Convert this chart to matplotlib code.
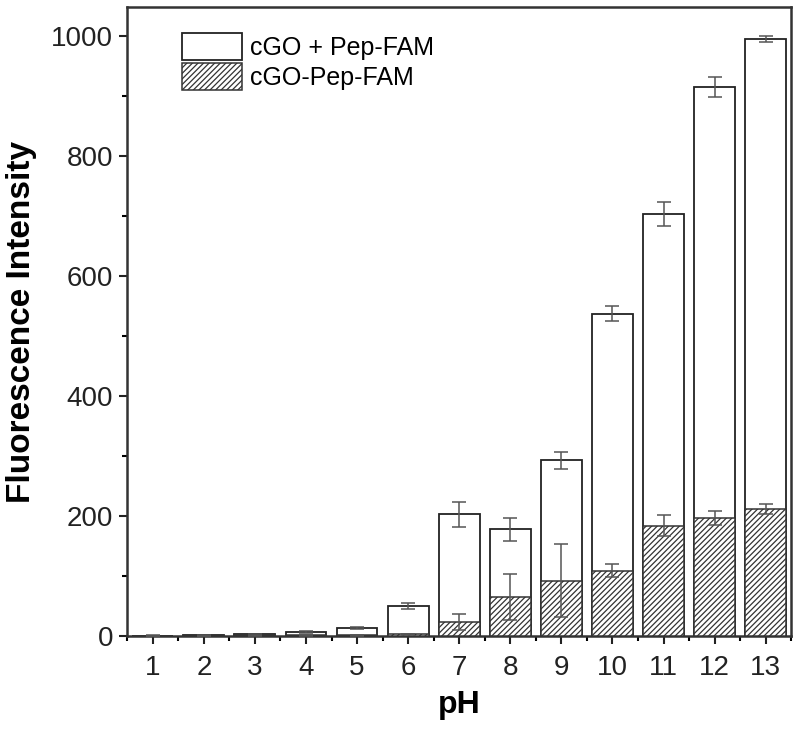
import numpy as np
import matplotlib
matplotlib.use("Agg")
import matplotlib.pyplot as plt
from matplotlib.ticker import MultipleLocator

# pH values and fluorescence intensities
ph = np.array([1, 2, 3, 4, 5, 6, 7, 8, 9, 10, 11, 12, 13])
mix = np.array([0.5, 1, 3, 7, 13, 50, 203, 178, 293, 537, 703, 915, 995])
mix_err = np.array([0.5, 0.5, 1, 1.5, 2, 5, 21, 19, 14, 12, 20, 17, 5])
conj = np.array([0.5, 0.5, 1, 1, 1, 3, 23, 65, 92, 109, 184, 197, 212])
conj_err = np.array([0.3, 0.3, 0.5, 0.5, 0.5, 1, 13, 38, 61, 11, 18, 12, 8])

labels = ['cGO + Pep-FAM', 'cGO-Pep-FAM']

plt.rcParams['font.family'] = ['Liberation Sans', 'DejaVu Sans']
plt.rcParams['hatch.linewidth'] = 0.9

fig = plt.figure(figsize=(8, 7.34), dpi=100, facecolor='white')
ax = fig.add_axes([0.159, 0.1335, 0.83, 0.857])

ax.bar(ph, mix, width=0.8, facecolor='white', edgecolor='#222222',
       linewidth=1.3, label=labels[0], zorder=2)
ax.errorbar(ph, mix, yerr=mix_err, fmt='none', ecolor='#555555',
            elinewidth=1.1, capsize=5, capthick=1.1, zorder=3)

ax.bar(ph, conj, width=0.8, facecolor='white', edgecolor='#333333',
       hatch='//////', linewidth=1.1, label=labels[1], zorder=4)
ax.errorbar(ph, conj, yerr=conj_err, fmt='none', ecolor='#555555',
            elinewidth=1.1, capsize=5, capthick=1.1, zorder=5)

ax.set_xlim(0.5, 13.5)
ax.set_ylim(0, 1048)
ax.set_xticks(ph)
ax.xaxis.set_minor_locator(MultipleLocator(0.5))
ax.yaxis.set_major_locator(MultipleLocator(200))
ax.yaxis.set_minor_locator(MultipleLocator(100))

ax.tick_params(axis='both', which='major', direction='out', length=6,
               width=1.5, labelsize=20, colors='#222222')
ax.tick_params(axis='y', which='major', pad=4)
ax.tick_params(axis='x', which='major', pad=8)
ax.tick_params(axis='both', which='minor', direction='out', length=3.5,
               width=1.5)
for s in ax.spines.values():
    s.set_linewidth(1.8)
    s.set_color('#333333')

ax.set_xlabel('pH', fontsize=23, fontweight='bold', labelpad=6)
ax.set_ylabel('Fluorescence Intensity', fontsize=24, fontweight='bold',
              labelpad=10)

ax.legend(loc='upper left', bbox_to_anchor=(0.049, 0.995), frameon=False,
          fontsize=18, handlelength=2.4, handleheight=1.3,
          labelspacing=0.12, handletextpad=0.3, borderpad=0.4)

plt.savefig('out.png', dpi=100, facecolor='white')
